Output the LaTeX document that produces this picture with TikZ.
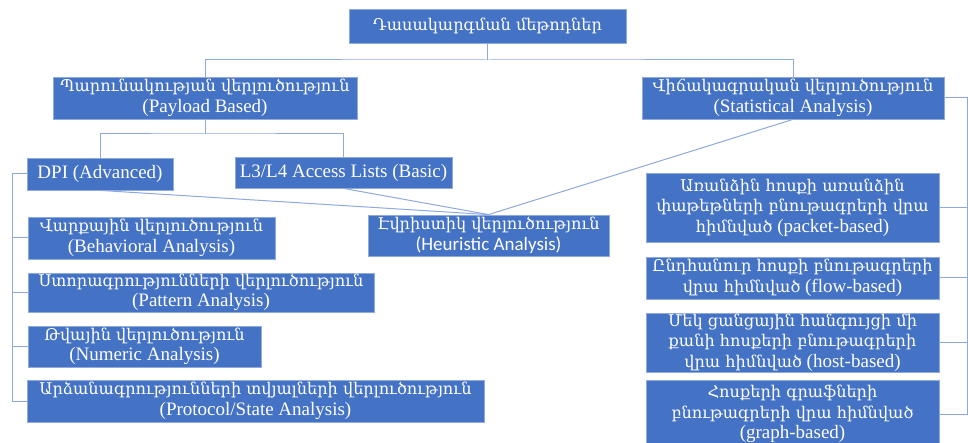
\documentclass[tikz,border=0pt]{standalone}
\usepackage{fontspec}
\setmainfont{Liberation Serif}
\newfontfamily\arm[Scale=0.85]{DejaVu Serif}
\newfontfamily\calibri{Carlito}
\usepackage{tikz}
\usetikzlibrary{backgrounds,calc}
\definecolor{boxblue}{HTML}{4472C4}
\definecolor{boxedge}{HTML}{8FAADC}
\definecolor{linkblue}{HTML}{8EA9DB}

\begin{document}
\begin{tikzpicture}[x=1pt,y=-1pt]
  % `method' is used for every blue box.
  % `link' is used for the thin connectors.
  \tikzstyle{method} = [draw=boxedge,fill=boxblue,text=white,align=center,inner sep=0pt,line width=0.8pt,font=\fontsize{19}{20.5}\selectfont]
  \tikzstyle{link} = [draw=linkblue,line width=1pt]
  \useasboundingbox (0,0) rectangle (968,443);
  %
  % Top.
  \node[method,minimum width=277pt,minimum height=34pt] (top) at (487.5,26) {{\arm Դասակարգման մեթոդներ}};
  \node[method,minimum width=304pt,minimum height=42pt] (payload) at (205,98) {{\arm Պարունակության վերլուծություն}\\(Payload Based)};
  \node[method,minimum width=302pt,minimum height=42pt] (stat) at (793,98) {{\arm Վիճակագրական վերլուծություն}\\(Statistical Analysis)};
  % Payload side.
  \node[method,minimum width=146pt,minimum height=32pt] (dpi) at (100,174) {DPI (Advanced)};
  \node[method,minimum width=217pt,minimum height=31pt] (acl) at (343.5,172.5) {L3/L4 Access Lists (Basic)};
  \node[method,minimum width=241pt,minimum height=41pt] (heur) at (488.5,235.5) {{\arm Էվրիստիկ վերլուծություն}\\{\calibri (Heuristic Analysis)}};
  \node[method,minimum width=247pt,minimum height=42pt] (behav) at (151.5,238) {{\arm Վարքային վերլուծություն}\\(Behavioral Analysis)};
  \node[method,minimum width=346pt,minimum height=39pt] (pattern) at (201,292.5) {{\arm Ստորագրությունների վերլուծություն}\\(Pattern Analysis)};
  \node[method,minimum width=233pt,minimum height=41pt] (numeric) at (144.5,346.5) {{\arm Թվային վերլուծություն}\\(Numeric Analysis)};
  \node[method,minimum width=457pt,minimum height=42pt] (protocol) at (255.5,401) {{\arm Արձանագրությունների տվյալների վերլուծություն}\\(Protocol/State Analysis)};
  % Statistical side.
  \node[method,minimum width=293pt,minimum height=69pt] (packet) at (792.5,207.5) {{\arm Առանձին հոսքի առանձին}\\{\arm փաթեթների բնութագրերի վրա}\\{\arm հիմնված} (packet-based)};
  \node[method,minimum width=293pt,minimum height=42pt] (flow) at (792.5,278) {{\arm Ընդհանուր հոսքի բնութագրերի}\\{\arm վրա հիմնված} (flow-based)};
  \node[method,minimum width=293pt,minimum height=59pt] (host) at (792.5,342.5) {{\arm Մեկ ցանցային հանգույցի մի}\\{\arm քանի հոսքերի բնութագրերի}\\{\arm վրա հիմնված} (host-based)};
  \node[method,minimum width=293pt,minimum height=68pt] (graph) at (792.5,414) {{\arm Հոսքերի գրաֆների}\\{\arm բնութագրերի վրա հիմնված}\\(graph-based)};
  %
  \coordinate (split) at (487.5,60);
  \coordinate (psplit) at (205,134);
  \coordinate (lbar) at (12,174);
  \coordinate (rbar) at (967,98);
  \begin{pgfonlayer}{background}
    % Tree lines.
    \draw[link] (top) -- (split);
    \draw[link] (payload.north) |- (split) -| (stat.north);
    \draw[link] (payload.south) -- (psplit);
    \draw[link] (dpi.north) |- (psplit) -| (acl.north);
    % Left bracket.
    \draw[link] (dpi.west) -- (lbar) |- (protocol.west);
    \foreach \n in {behav,pattern,numeric}
      \draw[link] (\n.west) -- (\n.west -| lbar);
    % Right bracket.
    \draw[link] (stat.east) -- (rbar) |- (graph.east);
    \foreach \n in {packet,flow,host}
      \draw[link] (\n.east) -- (\n.east -| rbar);
    % Heuristic.
    \draw[link] (dpi.south) -- (heur.north);
    \draw[link] (acl.south) -- (heur.north);
    \draw[link] (stat.south) -- (heur.north);
  \end{pgfonlayer}
  %
\end{tikzpicture}
\end{document}
